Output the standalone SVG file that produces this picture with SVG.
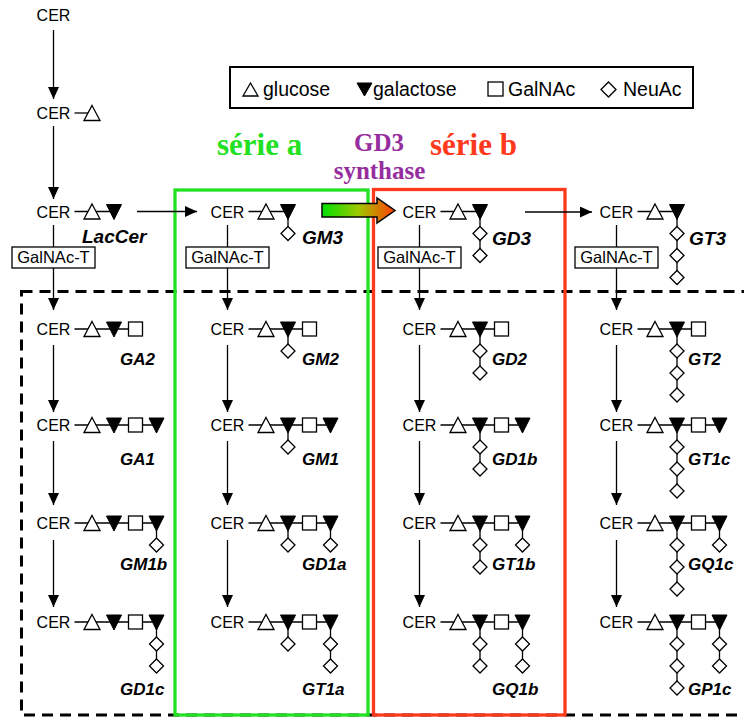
<svg xmlns="http://www.w3.org/2000/svg" width="744" height="718" viewBox="0 0 744 718">
<style>
.cer{font-family:"Liberation Sans",Arial,sans-serif;font-size:16px;text-anchor:middle;fill:#000}
.lbl{font-family:"Liberation Sans",Arial,sans-serif;font-size:17px;font-weight:bold;font-style:italic;fill:#000}
.lbl0{font-family:"Liberation Sans",Arial,sans-serif;font-size:19px;font-weight:bold;font-style:italic;fill:#000}
.ln{stroke:#000;stroke-width:1.3;fill:none}
.ar{stroke:#000;stroke-width:1.3;fill:none;marker-end:url(#ah)}
.o{fill:#fff;stroke:#000;stroke-width:1.3}
.f{fill:#000;stroke:#000;stroke-width:1}
.box{fill:#fff;stroke:#000;stroke-width:1.3}
.gt{font-family:"Liberation Sans",Arial,sans-serif;font-size:16.5px;text-anchor:middle;fill:#000}
.leg{font-family:"Liberation Sans",Arial,sans-serif;font-size:19.5px;fill:#000}
.title{font-family:"Liberation Serif","Times New Roman",serif;font-weight:bold}
</style>
<defs>
<marker id="ah" viewBox="0 0 12 11" refX="12" refY="5.5" markerWidth="12" markerHeight="11" markerUnits="userSpaceOnUse" orient="auto"><path d="M0,0L12,5.5L0,11z" fill="#000"/></marker>
<polygon id="to" class="o" points="0,-7.5 8,7.5 -8,7.5"/>
<polygon id="tf" class="f" points="-7.5,-7 7.5,-7 0,8"/>
<rect id="sq" class="o" x="-7" y="-7" width="14" height="14"/>
<polygon id="di" class="o" points="0,-7 7,0 0,7 -7,0"/>
<linearGradient id="gr" x1="0" y1="0" x2="1" y2="0">
<stop offset="0" stop-color="#00e000"/>
<stop offset="0.5" stop-color="#a0c800"/>
<stop offset="1" stop-color="#ff3c00"/>
</linearGradient>
</defs>
<rect width="744" height="718" fill="#fff"/>

<!-- frames -->
<g id="frames">
<rect x="21.5" y="291.5" width="740" height="423.5" fill="none" stroke="#000" stroke-width="3" stroke-dasharray="11 7"/>
<rect x="175" y="190" width="193" height="525" fill="none" stroke="#22e022" stroke-width="3.3"/>
<rect x="373.5" y="189.5" width="191.5" height="525.5" fill="none" stroke="#ff3a1c" stroke-width="3.3"/>
</g>

<!-- legend -->
<g id="legend">
<rect x="230" y="67" width="463" height="41" fill="#fff" stroke="#000" stroke-width="2"/>
<polygon class="o" points="250.5,83 258,96 243,96"/>
<text class="leg" x="263" y="96">glucose</text>
<polygon class="f" points="357,83 372,83 364.5,96"/>
<text class="leg" x="373" y="96">galactose</text>
<rect class="o" x="488" y="82" width="15" height="14"/>
<text class="leg" x="508" y="96">GalNAc</text>
<polygon class="o" points="608.5,82 616,89.5 608.5,97 601,89.5"/>
<text class="leg" x="623" y="96">NeuAc</text>
</g>

<!-- titles -->
<g id="titles">
<text class="title" x="217" y="155" font-size="31" fill="#22e022">série a</text>
<text class="title" x="379" y="151" font-size="25" fill="#962d9e" text-anchor="middle">GD3</text>
<text class="title" x="379.5" y="179" font-size="25" fill="#962d9e" text-anchor="middle">synthase</text>
<text class="title" x="430" y="155" font-size="31" fill="#ff3a1c">série b</text>
</g>

<!-- connectors -->
<g id="connectors">
<path class="ar" d="M53.5,30V99"/>
<path class="ar" d="M53.5,126V199"/>
<path class="ar" d="M137,211.5H197"/>
<path class="ar" d="M525,212H592"/>
<path d="M322,203.5H377V198L395,210.5L377,223V217H322Z" fill="url(#gr)" stroke="#000" stroke-width="1.5" stroke-linejoin="miter"/>
<!-- down from row 0 through GalNAc-T -->
<path class="ln" d="M53.5,225V247"/><path class="ar" d="M53.5,268V310"/>
<path class="ln" d="M227.5,225V247"/><path class="ar" d="M227.5,268V310"/>
<path class="ln" d="M419.5,225V247"/><path class="ar" d="M419.5,268V310"/>
<path class="ln" d="M616.5,225V247"/><path class="ar" d="M616.5,268V310"/>
<!-- row arrows -->
<path class="ar" d="M53.5,345V412"/><path class="ar" d="M53.5,441V505"/><path class="ar" d="M53.5,540V607"/>
<path class="ar" d="M227.5,345V412"/><path class="ar" d="M227.5,441V505"/><path class="ar" d="M227.5,540V607"/>
<path class="ar" d="M419.5,345V412"/><path class="ar" d="M419.5,441V505"/><path class="ar" d="M419.5,540V607"/>
<path class="ar" d="M616.5,345V412"/><path class="ar" d="M616.5,441V505"/><path class="ar" d="M616.5,540V607"/>
</g>

<!-- enzyme boxes -->
<g id="galnact-1"><rect class="box" x="12" y="247" width="83" height="21"/><text class="gt" x="53.5" y="263">GalNAc-T</text></g>
<g id="galnact-2"><rect class="box" x="186" y="247" width="83" height="21"/><text class="gt" x="227.5" y="263">GalNAc-T</text></g>
<g id="galnact-3"><rect class="box" x="378" y="247" width="83" height="21"/><text class="gt" x="419.5" y="263">GalNAc-T</text></g>
<g id="galnact-4"><rect class="box" x="575" y="247" width="83" height="21"/><text class="gt" x="616.5" y="263">GalNAc-T</text></g>

<!-- top -->
<g id="cer"><text class="cer" x="53.5" y="21">CER</text></g>
<g id="glccer"><text class="cer" x="53.5" y="119">CER</text><path class="ln" d="M74.5,113H92"/><use href="#to" x="92" y="113"/></g>

<!-- row 0 -->
<g id="laccer"><text class="cer" x="53.5" y="217.5">CER</text><path class="ln" d="M74.5,211.5H114"/><use href="#to" x="92" y="211.5"/><use href="#tf" x="114" y="211.5"/><text class="lbl0" x="82" y="243" font-size="20">LacCer</text></g>
<g id="gm3"><text class="cer" x="227.5" y="217.5">CER</text><path class="ln" d="M248.5,211.5H288M288,211.5V233.5"/><use href="#to" x="266" y="211.5"/><use href="#tf" x="288" y="211.5"/><use href="#di" x="288" y="233.5"/><text class="lbl0" x="302" y="244">GM3</text></g>
<g id="gd3"><text class="cer" x="419.5" y="217.5">CER</text><path class="ln" d="M440.5,211.5H480M480,211.5V255.5"/><use href="#to" x="458" y="211.5"/><use href="#tf" x="480" y="211.5"/><use href="#di" x="480" y="233.5"/><use href="#di" x="480" y="255.5"/><text class="lbl0" x="492" y="245">GD3</text></g>
<g id="gt3"><text class="cer" x="616.5" y="217.5">CER</text><path class="ln" d="M637.5,211.5H677M677,211.5V277.5"/><use href="#to" x="655" y="211.5"/><use href="#tf" x="677" y="211.5"/><use href="#di" x="677" y="233.5"/><use href="#di" x="677" y="255.5"/><use href="#di" x="677" y="277.5"/><text class="lbl0" x="689" y="245">GT3</text></g>

<!-- row 1 -->
<g id="ga2"><text class="cer" x="53.5" y="335">CER</text><path class="ln" d="M74.5,329H135.5"/><use href="#to" x="92" y="329"/><use href="#tf" x="114" y="329"/><use href="#sq" x="135.5" y="329"/><text class="lbl" x="120" y="365">GA2</text></g>
<g id="gm2"><text class="cer" x="227.5" y="335">CER</text><path class="ln" d="M248.5,329H309.5M288,329V351"/><use href="#to" x="266" y="329"/><use href="#tf" x="288" y="329"/><use href="#sq" x="309.5" y="329"/><use href="#di" x="288" y="351"/><text class="lbl" x="302" y="365">GM2</text></g>
<g id="gd2"><text class="cer" x="419.5" y="335">CER</text><path class="ln" d="M440.5,329H501.5M480,329V373"/><use href="#to" x="458" y="329"/><use href="#tf" x="480" y="329"/><use href="#sq" x="501.5" y="329"/><use href="#di" x="480" y="351"/><use href="#di" x="480" y="373"/><text class="lbl" x="492" y="365">GD2</text></g>
<g id="gt2"><text class="cer" x="616.5" y="335">CER</text><path class="ln" d="M637.5,329H698.5M677,329V395"/><use href="#to" x="655" y="329"/><use href="#tf" x="677" y="329"/><use href="#sq" x="698.5" y="329"/><use href="#di" x="677" y="351"/><use href="#di" x="677" y="373"/><use href="#di" x="677" y="395"/><text class="lbl" x="688" y="365">GT2</text></g>

<!-- row 2 -->
<g id="ga1"><text class="cer" x="53.5" y="431">CER</text><path class="ln" d="M74.5,425H156.5"/><use href="#to" x="92" y="425"/><use href="#tf" x="114" y="425"/><use href="#sq" x="135.5" y="425"/><use href="#tf" x="156.5" y="425"/><text class="lbl" x="120" y="465">GA1</text></g>
<g id="gm1"><text class="cer" x="227.5" y="431">CER</text><path class="ln" d="M248.5,425H330.5M288,425V447"/><use href="#to" x="266" y="425"/><use href="#tf" x="288" y="425"/><use href="#sq" x="309.5" y="425"/><use href="#tf" x="330.5" y="425"/><use href="#di" x="288" y="447"/><text class="lbl" x="302" y="465">GM1</text></g>
<g id="gd1b"><text class="cer" x="419.5" y="431">CER</text><path class="ln" d="M440.5,425H522.5M480,425V469"/><use href="#to" x="458" y="425"/><use href="#tf" x="480" y="425"/><use href="#sq" x="501.5" y="425"/><use href="#tf" x="522.5" y="425"/><use href="#di" x="480" y="447"/><use href="#di" x="480" y="469"/><text class="lbl" x="492" y="465">GD1b</text></g>
<g id="gt1c"><text class="cer" x="616.5" y="431">CER</text><path class="ln" d="M637.5,425H719.5M677,425V491"/><use href="#to" x="655" y="425"/><use href="#tf" x="677" y="425"/><use href="#sq" x="698.5" y="425"/><use href="#tf" x="719.5" y="425"/><use href="#di" x="677" y="447"/><use href="#di" x="677" y="469"/><use href="#di" x="677" y="491"/><text class="lbl" x="688" y="465">GT1c</text></g>

<!-- row 3 -->
<g id="gm1b"><text class="cer" x="53.5" y="529">CER</text><path class="ln" d="M74.5,523H156.5M156.5,523V545"/><use href="#to" x="92" y="523"/><use href="#tf" x="114" y="523"/><use href="#sq" x="135.5" y="523"/><use href="#tf" x="156.5" y="523"/><use href="#di" x="156.5" y="545"/><text class="lbl" x="120" y="570">GM1b</text></g>
<g id="gd1a"><text class="cer" x="227.5" y="529">CER</text><path class="ln" d="M248.5,523H330.5M288,523V545M330.5,523V545"/><use href="#to" x="266" y="523"/><use href="#tf" x="288" y="523"/><use href="#sq" x="309.5" y="523"/><use href="#tf" x="330.5" y="523"/><use href="#di" x="288" y="545"/><use href="#di" x="330.5" y="545"/><text class="lbl" x="302" y="570">GD1a</text></g>
<g id="gt1b"><text class="cer" x="419.5" y="529">CER</text><path class="ln" d="M440.5,523H522.5M480,523V567M522.5,523V545"/><use href="#to" x="458" y="523"/><use href="#tf" x="480" y="523"/><use href="#sq" x="501.5" y="523"/><use href="#tf" x="522.5" y="523"/><use href="#di" x="480" y="545"/><use href="#di" x="480" y="567"/><use href="#di" x="522.5" y="545"/><text class="lbl" x="492" y="570">GT1b</text></g>
<g id="gq1c"><text class="cer" x="616.5" y="529">CER</text><path class="ln" d="M637.5,523H719.5M677,523V589M719.5,523V545"/><use href="#to" x="655" y="523"/><use href="#tf" x="677" y="523"/><use href="#sq" x="698.5" y="523"/><use href="#tf" x="719.5" y="523"/><use href="#di" x="677" y="545"/><use href="#di" x="677" y="567"/><use href="#di" x="677" y="589"/><use href="#di" x="719.5" y="545"/><text class="lbl" x="688" y="570">GQ1c</text></g>

<!-- row 4 -->
<g id="gd1c"><text class="cer" x="53.5" y="628">CER</text><path class="ln" d="M74.5,622H156.5M156.5,622V666"/><use href="#to" x="92" y="622"/><use href="#tf" x="114" y="622"/><use href="#sq" x="135.5" y="622"/><use href="#tf" x="156.5" y="622"/><use href="#di" x="156.5" y="644"/><use href="#di" x="156.5" y="666"/><text class="lbl" x="120" y="695">GD1c</text></g>
<g id="gt1a"><text class="cer" x="227.5" y="628">CER</text><path class="ln" d="M248.5,622H330.5M288,622V644M330.5,622V666"/><use href="#to" x="266" y="622"/><use href="#tf" x="288" y="622"/><use href="#sq" x="309.5" y="622"/><use href="#tf" x="330.5" y="622"/><use href="#di" x="288" y="644"/><use href="#di" x="330.5" y="644"/><use href="#di" x="330.5" y="666"/><text class="lbl" x="302" y="695">GT1a</text></g>
<g id="gq1b"><text class="cer" x="419.5" y="628">CER</text><path class="ln" d="M440.5,622H522.5M480,622V666M522.5,622V666"/><use href="#to" x="458" y="622"/><use href="#tf" x="480" y="622"/><use href="#sq" x="501.5" y="622"/><use href="#tf" x="522.5" y="622"/><use href="#di" x="480" y="644"/><use href="#di" x="480" y="666"/><use href="#di" x="522.5" y="644"/><use href="#di" x="522.5" y="666"/><text class="lbl" x="492" y="695">GQ1b</text></g>
<g id="gp1c"><text class="cer" x="616.5" y="628">CER</text><path class="ln" d="M637.5,622H719.5M677,622V688M719.5,622V666"/><use href="#to" x="655" y="622"/><use href="#tf" x="677" y="622"/><use href="#sq" x="698.5" y="622"/><use href="#tf" x="719.5" y="622"/><use href="#di" x="677" y="644"/><use href="#di" x="677" y="666"/><use href="#di" x="677" y="688"/><use href="#di" x="719.5" y="644"/><use href="#di" x="719.5" y="666"/><text class="lbl" x="688" y="695">GP1c</text></g>
</svg>
